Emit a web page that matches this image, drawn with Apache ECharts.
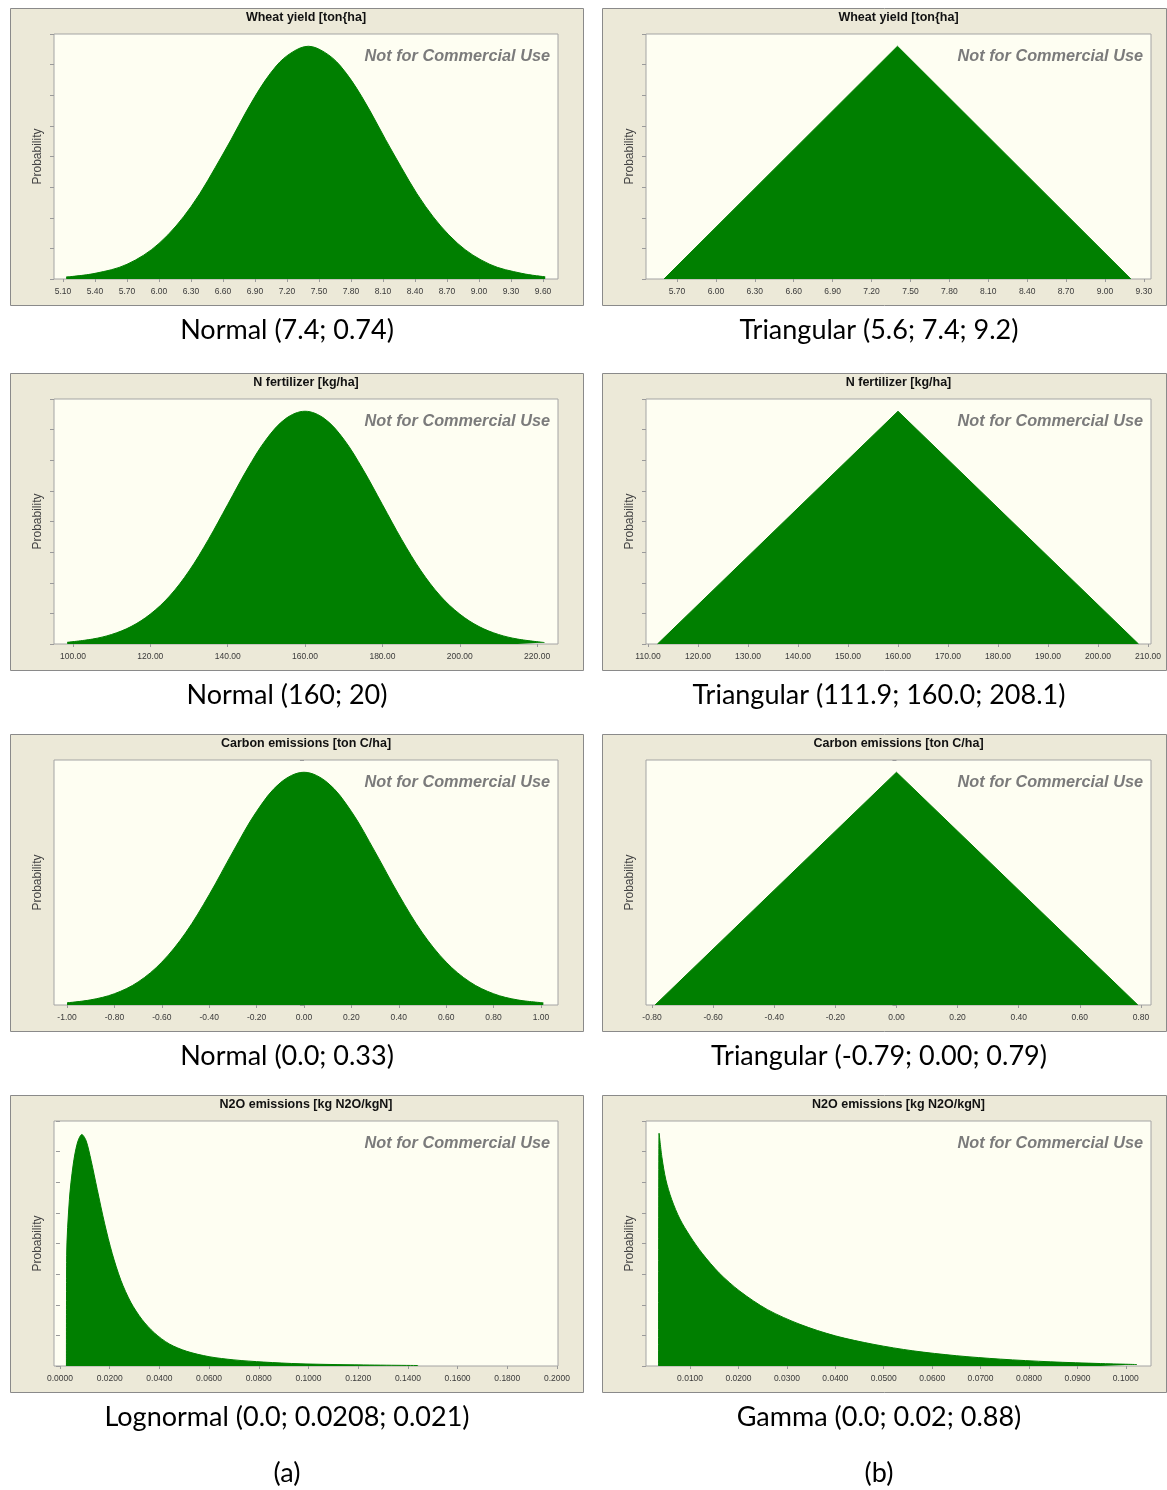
<!DOCTYPE html>
<html>
<head>
<meta charset="utf-8">
<title>Input distributions</title>
<script src="https://cdn.jsdelivr.net/npm/echarts@6/dist/echarts.min.js"></script>
<style>
  html, body { margin: 0; padding: 0; background: #ffffff; }
  #chart { width: 1167px; height: 1490px; }
</style>
</head>
<body>
<div id="chart"></div>
<script>
// ---- panel texts ----
const panelTitles = [
  'Wheat yield [ton{ha]', 'Wheat yield [ton{ha]',
  'N fertilizer [kg/ha]', 'N fertilizer [kg/ha]',
  'Carbon emissions [ton C/ha]', 'Carbon emissions [ton C/ha]',
  'N2O emissions [kg N2O/kgN]', 'N2O emissions [kg N2O/kgN]'
];
const captions = [
  'Normal (7.4; 0.74)', 'Triangular (5.6; 7.4; 9.2)',
  'Normal (160; 20)', 'Triangular (111.9; 160.0; 208.1)',
  'Normal (0.0; 0.33)', 'Triangular (-0.79; 0.00; 0.79)',
  'Lognormal (0.0; 0.0208; 0.021)', 'Gamma (0.0; 0.02; 0.88)'
];
const columnLabels = ['(a)', '(b)'];
const watermark = 'Not for Commercial Use';
const yAxisName = 'Probability';

// ---- x-axis tick values ----
const wheatNormalTicks = [5.10, 5.40, 5.70, 6.00, 6.30, 6.60, 6.90, 7.20, 7.50, 7.80, 8.10, 8.40, 8.70, 9.00, 9.30, 9.60];
const wheatTriTicks = [5.70, 6.00, 6.30, 6.60, 6.90, 7.20, 7.50, 7.80, 8.10, 8.40, 8.70, 9.00, 9.30];
const fertNormalTicks = [100, 120, 140, 160, 180, 200, 220];
const fertTriTicks = [110, 120, 130, 140, 150, 160, 170, 180, 190, 200, 210];
const carbonNormalTicks = [-1.00, -0.80, -0.60, -0.40, -0.20, 0.00, 0.20, 0.40, 0.60, 0.80, 1.00];
const carbonTriTicks = [-0.80, -0.60, -0.40, -0.20, 0.00, 0.20, 0.40, 0.60, 0.80];
const n2oLognormalTicks = [0.0000, 0.0200, 0.0400, 0.0600, 0.0800, 0.1000, 0.1200, 0.1400, 0.1600, 0.1800, 0.2000];
const n2oGammaTicks = [0.0100, 0.0200, 0.0300, 0.0400, 0.0500, 0.0600, 0.0700, 0.0800, 0.0900, 0.1000];

// ---- density curves: [value, relative probability height] ----
const wheatNormal = [
  [5.13, 0.8], [5.40, 2.3], [5.70, 6.0], [6.00, 14.5], [6.30, 29.5], [6.60, 51.0],
  [6.90, 74.5], [7.10, 87.0], [7.25, 92.6], [7.40, 95.0], [7.55, 92.6], [7.70, 87.0],
  [7.90, 74.5], [8.20, 51.0], [8.50, 29.5], [8.80, 14.5], [9.10, 6.0], [9.40, 2.3], [9.62, 0.9]
];
const wheatTriangular = [[5.6, 0], [7.4, 95], [9.2, 0]];

const fertNormal = [
  [98.5, 0.7], [105, 2.0], [110, 3.9], [115, 7.1], [120, 12.2], [125, 19.6], [130, 29.8],
  [135, 42.6], [140, 56.9], [145, 71.2], [150, 83.6], [155, 92.0], [160, 95.0], [165, 92.0],
  [170, 83.6], [175, 71.2], [180, 56.9], [185, 42.6], [190, 29.8], [195, 19.6], [200, 12.2],
  [205, 7.1], [210, 3.9], [215, 2.0], [221.9, 0.6]
];
const fertTriangular = [[111.9, 0], [160.0, 95], [208.1, 0]];

const carbonNormal = [
  [-1.00, 0.9], [-0.90, 2.1], [-0.80, 4.6], [-0.70, 9.4], [-0.60, 17.5], [-0.50, 29.4],
  [-0.40, 45.0], [-0.30, 62.5], [-0.20, 79.0], [-0.10, 90.7], [0.00, 95.0], [0.10, 90.7],
  [0.20, 79.0], [0.30, 62.5], [0.40, 45.0], [0.50, 29.4], [0.60, 17.5], [0.70, 9.4],
  [0.80, 4.6], [0.90, 2.1], [1.01, 0.9]
];
const carbonTriangular = [[-0.79, 0], [0.00, 95], [0.79, 0]];

const n2oLognormal = [
  [0.0026, 0], [0.0027, 45], [0.0038, 68], [0.0053, 82], [0.0070, 91], [0.0088, 94.5],
  [0.0105, 92], [0.0125, 84], [0.0150, 72], [0.0180, 58], [0.0210, 46], [0.0245, 35],
  [0.0285, 26], [0.0330, 19], [0.0380, 13.5], [0.0440, 9.0], [0.0510, 6.0], [0.0600, 3.8],
  [0.0700, 2.5], [0.0820, 1.6], [0.0966, 0.9], [0.1167, 0.5], [0.1441, 0.2]
];
const n2oGamma = [
  [0.0035, 0], [0.0036, 95], [0.0042, 85], [0.0050, 76], [0.0062, 68], [0.0079, 60],
  [0.0100, 53], [0.0125, 46], [0.0160, 38], [0.0203, 30.5], [0.0260, 23], [0.0327, 17],
  [0.0400, 12.3], [0.0480, 8.8], [0.0560, 6.2], [0.0650, 4.2], [0.0741, 2.8], [0.0845, 1.7],
  [0.0948, 1.0], [0.1023, 0.6]
];

// ---- panel definitions (axis extents cover a little past the first/last tick) ----
const panels = [
  { data: wheatNormal, ticks: wheatNormalTicks, min: 5.016, max: 9.74, dec: 2, smooth: 0.35 },
  { data: wheatTriangular, ticks: wheatTriTicks, min: 5.461, max: 9.355, dec: 2, smooth: false },
  { data: fertNormal, ticks: fertNormalTicks, min: 95.09, max: 225.4, dec: 2, smooth: 0.35 },
  { data: fertTriangular, ticks: fertTriTicks, min: 109.6, max: 210.6, dec: 2, smooth: false },
  { data: carbonNormal, ticks: carbonNormalTicks, min: -1.055, max: 1.072, dec: 2, smooth: 0.35 },
  { data: carbonTriangular, ticks: carbonTriTicks, min: -0.8197, max: 0.833, dec: 2, smooth: false },
  { data: n2oLognormal, ticks: n2oLognormalTicks, min: -0.0024, max: 0.2004, dec: 4, smooth: 0.3 },
  { data: n2oGamma, ticks: n2oGammaTicks, min: 0.0009, max: 0.1052, dec: 4, smooth: 0.3 }
];

// ---- layout ----
const ROW_OFFSET = [0, 365, 726, 1087];
const COL = [
  { frameX: 10, frameW: 573, gridL: 54, gridW: 504, capX: 287 },
  { frameX: 602, frameW: 564, gridL: 646, gridW: 505, capX: 879 }
];
const FRAME_TOP = 8, FRAME_H = 297, GRID_TOP = 34, GRID_H = 245;
const GREEN = '#007f00';
const CAPTION_FONT = '27px Lato, "Open Sans", sans-serif';

const grids = [], xAxes = [], yAxes = [], series = [], graphics = [];

panels.forEach((p, i) => {
  const col = COL[i % 2];
  const off = ROW_OFFSET[Math.floor(i / 2)];

  // panel frame
  graphics.push({
    type: 'rect', z: -10,
    shape: { x: col.frameX + 0.5, y: FRAME_TOP + off + 0.5, width: col.frameW, height: FRAME_H },
    style: { fill: '#ece9d8', stroke: '#8a8a8a', lineWidth: 1 }
  });
  // panel title
  graphics.push({
    type: 'text', z: 10,
    x: col.gridL + col.gridW / 2, y: 18 + off,
    style: { text: panelTitles[i], fill: '#111', font: 'bold 12.5px "Liberation Sans", Arial, sans-serif',
             textAlign: 'center', textVerticalAlign: 'middle' }
  });
  // watermark
  graphics.push({
    type: 'text', z: 100,
    x: col.gridL + col.gridW - 8, y: 57 + off,
    style: { text: watermark, fill: '#7b7b7b', font: 'italic bold 16.3px "Liberation Sans", Arial, sans-serif',
             textAlign: 'right', textVerticalAlign: 'middle' }
  });
  // y-axis name
  graphics.push({
    type: 'text', z: 10,
    x: col.gridL - 16, y: GRID_TOP + GRID_H / 2 + off,
    rotation: Math.PI / 2,
    style: { text: yAxisName, fill: '#444', font: '12px "Liberation Sans", Arial, sans-serif',
             textAlign: 'center', textVerticalAlign: 'middle' }
  });
  // caption
  graphics.push({
    type: 'text', z: 10,
    x: col.capX, y: 330 + off,
    style: { text: captions[i], fill: '#000', font: CAPTION_FONT,
             textAlign: 'center', textVerticalAlign: 'middle' }
  });

  grids.push({
    left: col.gridL, top: GRID_TOP + off, width: col.gridW, height: GRID_H,
    show: true, backgroundColor: '#fefef2', borderColor: '#a4a4a4', borderWidth: 1
  });
  xAxes.push({
    type: 'value', gridIndex: i, min: p.min, max: p.max,
    axisLine: { show: false },
    splitLine: { show: false },
    axisTick: { show: true, customValues: p.ticks, length: 3, lineStyle: { color: '#9a9a9a' } },
    axisLabel: {
      customValues: p.ticks, margin: 8, color: '#3a3a3a', fontSize: 8.5,
      fontFamily: '"Liberation Sans", Arial, sans-serif',
      formatter: v => Number(v).toFixed(p.dec)
    }
  });
  yAxes.push({
    type: 'value', gridIndex: i, min: 0, max: 100, interval: 12.5,
    axisLine: { show: false },
    splitLine: { show: false },
    axisLabel: { show: false },
    axisTick: { show: true, length: 4, lineStyle: { color: '#9a9a9a' } }
  });
  series.push({
    type: 'line', xAxisIndex: i, yAxisIndex: i, data: p.data,
    smooth: p.smooth,
    showSymbol: false, silent: true,
    lineStyle: { color: GREEN, width: 1 },
    areaStyle: { color: GREEN, opacity: 1 },
    z: 2
  });
});

// column labels
columnLabels.forEach((t, c) => {
  graphics.push({
    type: 'text', z: 10,
    x: COL[c].capX, y: 1473,
    style: { text: t, fill: '#000', font: CAPTION_FONT,
             textAlign: 'center', textVerticalAlign: 'middle' }
  });
});

const chart = echarts.init(document.getElementById('chart'), null, { renderer: 'canvas' });
chart.setOption({
  animation: false,
  backgroundColor: '#ffffff',
  grid: grids,
  xAxis: xAxes,
  yAxis: yAxes,
  series: series,
  graphic: graphics
});
</script>
</body>
</html>
